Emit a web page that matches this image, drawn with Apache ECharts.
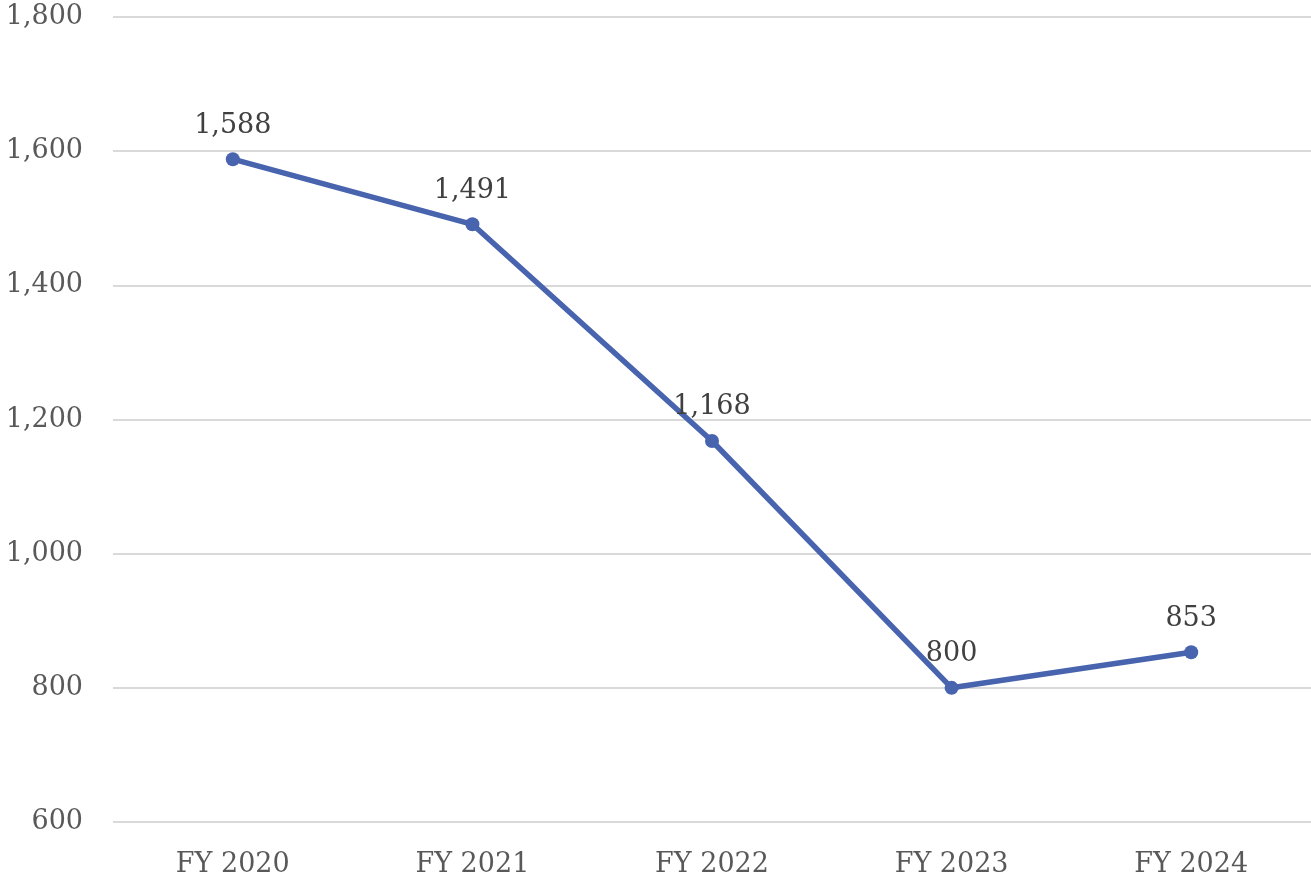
<!DOCTYPE html>
<html>
<head>
<meta charset="utf-8">
<script src="https://cdn.jsdelivr.net/npm/echarts@6/dist/echarts.min.js"></script>
<style>
html, body { margin: 0; padding: 0; background: #fff; }
#chart { width: 1311px; height: 880px; }
</style>
</head>
<body>
<div id="chart"></div>
<script>
// 数据
const categories = ["FY 2020", "FY 2021", "FY 2022", "FY 2023", "FY 2024"];
const values = [1588, 1491, 1168, 800, 853];
const yTicks = [600, 800, 1000, 1200, 1400, 1600, 1800];

const fmt = (v) => v.toLocaleString("en-US");
const font = "'DejaVu Serif', 'Liberation Serif', serif";

const chart = echarts.init(document.getElementById("chart"));
chart.setOption({
	backgroundColor: "#fff",
	animation: false,
	grid: { left: 113, right: 0, top: 17, bottom: 58 },
	xAxis: {
		type: "category",
		data: categories,
		axisLine: { show: false },
		axisTick: { show: false },
		axisLabel: { color: "#595959", fontFamily: font, fontSize: 27, margin: 29 },
	},
	yAxis: {
		type: "value",
		min: yTicks[0],
		max: yTicks[yTicks.length - 1],
		interval: 200,
		axisLine: { show: false },
		axisTick: { show: false },
		axisLabel: {
			color: "#595959",
			fontFamily: font,
			fontSize: 27,
			margin: 30,
			formatter: (v) => fmt(v),
		},
		splitLine: { lineStyle: { color: "#d9d9d9", width: 2 } },
	},
	series: [
		{
			type: "line",
			data: values,
			symbol: "circle",
			symbolSize: 14,
			lineStyle: { color: "#4864ae", width: 5.5 },
			itemStyle: { color: "#4864ae" },
			label: {
				show: true,
				position: "top",
				distance: 13,
				color: "#404040",
				fontFamily: font,
				fontSize: 27,
				formatter: (p) => fmt(p.value),
			},
		},
	],
});
</script>
</body>
</html>
